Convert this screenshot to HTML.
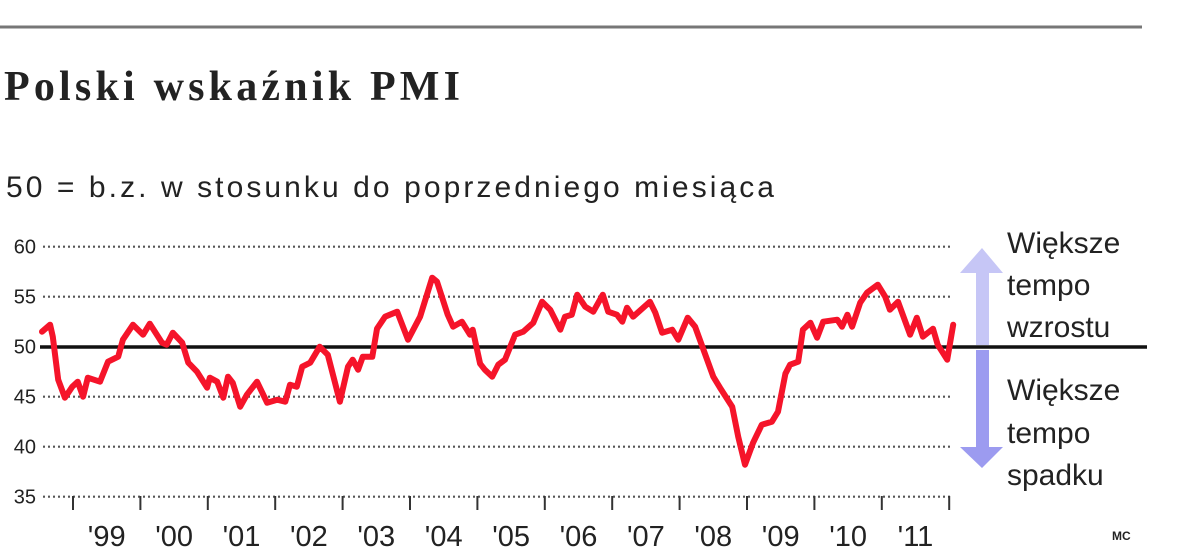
<!DOCTYPE html>
<html><head><meta charset="utf-8"><style>
html,body{margin:0;padding:0;background:#fff;}
svg{display:block;}
text{font-family:"Liberation Sans",sans-serif;fill:#222;}
</style></head><body>
<svg id="chart" width="1200" height="557" viewBox="0 0 1200 557">
<line x1="0" y1="27" x2="1142" y2="27" stroke="#777" stroke-width="3"/>
<text x="4" y="100" font-family="Liberation Serif" font-weight="bold" font-size="42" textLength="456" style="font-family:'Liberation Serif',serif">Polski wskaźnik PMI</text>
<text x="6" y="197" font-size="30" textLength="768" fill="#333">50 = b.z. w stosunku do poprzedniego miesiąca</text>
<g id="grid"></g>
<g id="yticks"></g>
<g id="xticks"></g>
<line x1="40" y1="347" x2="1147" y2="347" stroke="#111" stroke-width="3.5"/>
<path id="pmi-line" fill="none" stroke="#f5142a" stroke-width="6" stroke-linejoin="round" stroke-linecap="round"/>
<g>
<polygon points="982,248 1003,273 989,273 989,345 976,345 976,273 960,273" fill="#c6c6f6"/>
</g>
<g>
<polygon points="976,350 989,350 989,447 1003,447 982,468 960,447 976,447" fill="#9c9bf0"/>
</g>
<g font-size="30">
<text x="1007" y="253">Większe</text>
<text x="1007" y="295">tempo</text>
<text x="1007" y="337">wzrostu</text>
</g>
<g font-size="30">
<text x="1007" y="400">Większe</text>
<text x="1007" y="443">tempo</text>
<text x="1007" y="485">spadku</text>
</g>
<text x="1112" y="540" font-size="12" font-weight="bold" fill="#444">MC</text>
</svg>
<script>
const yTickValues = [35, 40, 45, 50, 55, 60];
const yearLabels = ["'99","'00","'01","'02","'03","'04","'05","'06","'07","'08","'09","'10","'11"];
const yearStarts = [1999,2000,2001,2002,2003,2004,2005,2006,2007,2008,2009,2010,2011,2012];
const dates = [1998.54,1998.66,1998.70,1998.78,1998.88,1998.99,1999.07,1999.15,1999.22,1999.40,1999.52,1999.67,1999.74,1999.89,2000.04,2000.14,2000.32,2000.39,2000.48,2000.62,2000.71,2000.84,2000.99,2001.03,2001.14,2001.23,2001.30,2001.37,2001.48,2001.58,2001.73,2001.88,2002.03,2002.15,2002.22,2002.32,2002.40,2002.52,2002.66,2002.78,2002.96,2003.08,2003.15,2003.23,2003.30,2003.44,2003.51,2003.63,2003.81,2003.97,2004.15,2004.33,2004.40,2004.56,2004.64,2004.77,2004.89,2004.93,2005.04,2005.11,2005.22,2005.31,2005.41,2005.56,2005.68,2005.83,2005.96,2006.08,2006.23,2006.30,2006.40,2006.48,2006.60,2006.72,2006.86,2006.94,2007.07,2007.15,2007.22,2007.31,2007.56,2007.64,2007.74,2007.89,2007.98,2008.12,2008.23,2008.50,2008.60,2008.78,2008.87,2008.97,2009.09,2009.22,2009.37,2009.46,2009.57,2009.64,2009.76,2009.83,2009.94,2010.04,2010.13,2010.34,2010.41,2010.49,2010.56,2010.68,2010.78,2010.94,2011.05,2011.12,2011.24,2011.42,2011.52,2011.61,2011.76,2011.83,2011.97,2012.06];
const pmiValues = [51.5,52.2,51.0,46.7,44.9,46.0,46.5,45.0,46.9,46.5,48.5,49.0,50.7,52.2,51.2,52.3,50.4,50.2,51.4,50.4,48.4,47.5,45.9,46.9,46.5,44.9,47.0,46.4,44.0,45.2,46.5,44.4,44.7,44.5,46.2,46.0,48.0,48.4,50.0,49.2,44.5,48.0,48.7,47.7,49.0,49.0,51.8,53.0,53.5,50.7,53.0,56.9,56.5,53.2,52.0,52.5,51.2,51.7,48.3,47.7,47.0,48.2,48.7,51.2,51.5,52.4,54.5,53.7,51.7,53.0,53.2,55.2,54.0,53.5,55.2,53.5,53.2,52.5,53.9,53.0,54.5,53.4,51.4,51.7,50.7,52.9,52.0,47.0,45.9,44.0,41.0,38.2,40.4,42.2,42.5,43.5,47.3,48.2,48.5,51.7,52.4,50.9,52.5,52.7,52.0,53.2,52.0,54.4,55.4,56.2,55.0,53.7,54.5,51.2,52.9,51.0,51.8,50.2,48.7,52.2];

const NS = "http://www.w3.org/2000/svg";
const x = t => 73 + (t - 1999) * 67.4;
const y = v => 346.7 - (v - 50) * 10;
function mk(tag, attrs, parent){ const e=document.createElementNS(NS,tag); for(const k in attrs) e.setAttribute(k,attrs[k]); parent.appendChild(e); return e; }

const grid = document.getElementById('grid');
const yt = document.getElementById('yticks');
yTickValues.forEach(v=>{
  if(v!==50){
    const l = mk('line',{x1:43,x2:950,y1:y(v),y2:y(v),stroke:'#555','stroke-width':2.2,'stroke-dasharray':'2 3'},grid);
    
    
  }
  const t = mk('text',{x:36,y:y(v)+7,'text-anchor':'end','font-size':20,fill:'#333'},yt);
  t.textContent = v;
  
  
});
const xt = document.getElementById('xticks');
yearStarts.forEach(yr=>{
  if(yr===1999 && false) return;
  const l = mk('line',{x1:x(yr),x2:x(yr),y1:496,y2:510,stroke:'#333','stroke-width':2},xt);
  
  
});
yearLabels.forEach((lab,i)=>{
  const t = mk('text',{x:x(yearStarts[i]+0.5),y:546,'text-anchor':'middle','font-size':29,fill:'#222'},xt);
  t.textContent = lab;
  
  
});
document.getElementById('pmi-line').setAttribute('d', dates.map((d,i)=>(i?'L':'M')+x(d).toFixed(1)+','+y(pmiValues[i]).toFixed(1)).join(' '));
</script>
</body></html>
